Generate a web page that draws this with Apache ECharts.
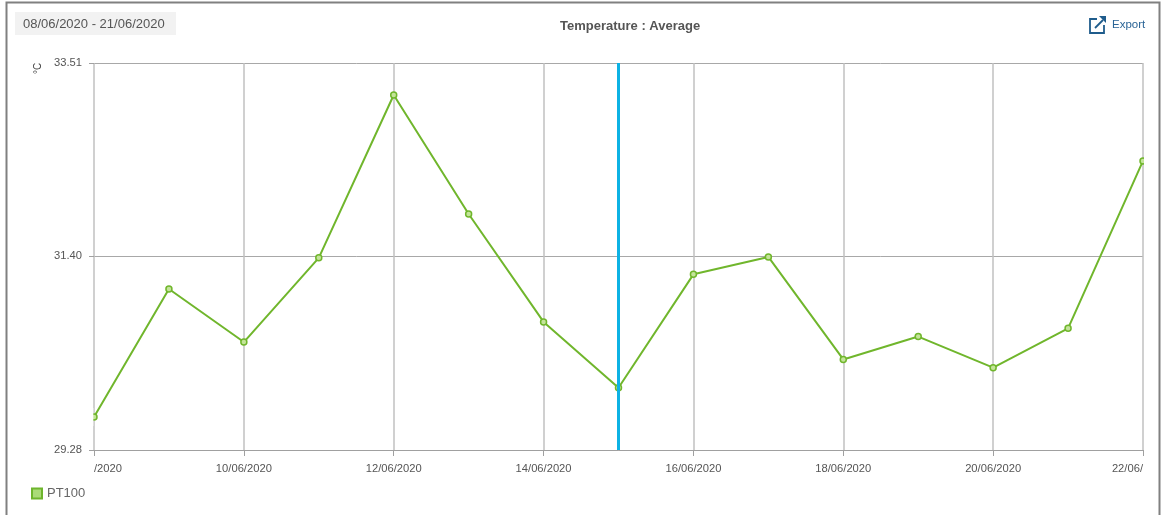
<!DOCTYPE html>
<html>
<head>
<meta charset="utf-8">
<style>html,body{margin:0;padding:0;background:#fff}#c{width:1163px;height:515px}</style>
<script src="https://cdn.jsdelivr.net/npm/echarts@6/dist/echarts.min.js"></script>
</head>
<body>
<div id="c"></div>
<script>
const categories = ["08/06/2020","09/06/2020","10/06/2020","11/06/2020","12/06/2020","13/06/2020","14/06/2020","15/06/2020","16/06/2020","17/06/2020","18/06/2020","19/06/2020","20/06/2020","21/06/2020","22/06/2020"];
const pt100 = [29.64,31.04,30.46,31.38,33.16,31.86,30.68,29.96,31.20,31.39,30.27,30.52,30.18,30.61,32.44];
const yTicks = [29.28,31.40,33.51];
const xTickLabels = {"08/06/2020":"/2020","22/06/2020":"22/06/"};
const marker = "15/06/2020";
const seriesName = "PT100";
const title = "Temperature : Average";
const dateRange = "08/06/2020 - 21/06/2020";
const unit = "°C";
const font = "'Liberation Sans', Arial, sans-serif";
const chart = echarts.init(document.getElementById('c'), null, {renderer:'canvas'});
const iconStyle = {fill:'none',stroke:'#1f5c8c',lineWidth:1.8};
chart.setOption({
  animation:false,
  backgroundColor:'#fff',
  title:{text:title,left:555,top:15,textStyle:{fontFamily:font,fontSize:13,fontWeight:'bold',color:'#555'}},
  legend:{left:26,top:482,itemWidth:10,itemHeight:10,itemGap:6,icon:'rect',
    data:[{name:seriesName,itemStyle:{color:'#aadb78',borderColor:'#6eb52d',borderWidth:2}}],
    textStyle:{fontFamily:font,fontSize:13,color:'#666'}},
  grid:{left:94,right:20,top:63,bottom:65,containLabel:false},
  xAxis:{type:'category',data:categories,boundaryGap:false,
    axisLine:{lineStyle:{color:'#a0a0a0',width:1}},
    axisTick:{show:true,length:6,interval:(i)=>i%2===0,lineStyle:{color:'#a0a0a0'}},
    splitLine:{show:true,interval:(i)=>i%2===0,lineStyle:{color:'#c0c0c0',width:1.5}},
    axisLabel:{interval:(i)=>i%2===0,margin:13,fontFamily:font,fontSize:11.2,color:'#555',
      alignMinLabel:'left',alignMaxLabel:'right',showMinLabel:true,showMaxLabel:true,hideOverlap:false,
      formatter:(v)=>xTickLabels[v]||v}},
  yAxis:{type:'value',min:yTicks[0],max:yTicks[2],
    axisLine:{show:false},
    axisTick:{show:true,length:5,customValues:yTicks,lineStyle:{color:'#a0a0a0'}},
    splitLine:{show:true,lineStyle:{color:'#a8a8a8',width:1}},
    axisLabel:{customValues:yTicks,margin:12,fontFamily:font,fontSize:11.2,color:'#555',
      formatter:(v)=>v.toFixed(2)}},
  series:[{name:seriesName,type:'line',data:pt100,clip:false,
    symbol:'circle',symbolSize:6,showAllSymbol:true,
    lineStyle:{color:'#70b62c',width:2},
    itemStyle:{color:'#c4e49a',borderColor:'#70b62c',borderWidth:1.5},
    markLine:{silent:true,symbol:'none',label:{show:false},animation:false,
      lineStyle:{color:'#0db2e4',width:3,type:'solid',opacity:1},
      data:[{xAxis:marker}]}}],
  graphic:[
    {type:'rect',z:-1,silent:true,shape:{x:6.5,y:2.5,width:1153,height:520},style:{fill:'none',stroke:'#808080',lineWidth:2}},
    {type:'rect',silent:true,shape:{x:15,y:12,width:161,height:23},style:{fill:'#f2f2f2'}},
    {type:'text',silent:true,x:23,y:18,z:5,style:{text:dateRange,font:"13px "+font,fill:'#555'}},
    {type:'text',silent:true,x:33,y:74,rotation:Math.PI/2,style:{text:unit,font:"10px "+font,fill:'#444'}},
    {type:'polyline',silent:true,shape:{points:[[1097,19],[1090,19],[1090,33],[1104,33],[1104,25]]},style:iconStyle},
    {type:'polyline',silent:true,shape:{points:[[1095,28],[1103,20]]},style:iconStyle},
    {type:'polygon',silent:true,shape:{points:[[1099,16],[1106,16],[1106,23]]},style:{fill:'#1f5c8c'}},
    {type:'text',silent:true,x:1112,y:19,style:{text:'Export',font:"11.5px "+font,fill:'#2a6496'}},
    {type:'rect',z:100,silent:true,shape:{x:88,y:408,width:5.3,height:18},style:{fill:'#fff'}},
    {type:'rect',z:100,silent:true,shape:{x:1144,y:152,width:6,height:18},style:{fill:'#fff'}}
  ]
});
</script>
</body>
</html>
